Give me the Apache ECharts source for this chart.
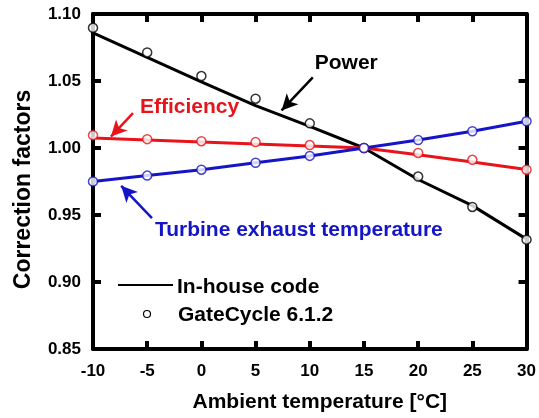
<!DOCTYPE html>
<html><head><meta charset="utf-8">
<script src="https://cdn.jsdelivr.net/npm/echarts@6/dist/echarts.min.js"></script>
<style>html,body{margin:0;padding:0;background:#fff}#c{width:539px;height:418px}</style>
</head><body><div id="c"></div>
<script>
const temps = [-10, -5, 0, 5, 10, 15, 20, 25, 30];
// In-house code (lines)
const powerLine = [1.086, 1.0676, 1.0493, 1.0316, 1.0162, 1.0, 0.9765, 0.957, 0.932];
const effLine = [1.0075, 1.006, 1.0045, 1.003, 1.0015, 1.0, 0.995, 0.9895, 0.984];
const texLine = [0.975, 0.9794, 0.9838, 0.989, 0.9941, 1.0, 1.0059, 1.0125, 1.0199];
// GateCycle 6.1.2 (markers)
const powerGC = [1.0897, 1.0713, 1.0537, 1.0368, 1.0184, 1.0, 0.9787, 0.956, 0.9316];
const effGC = [1.0096, 1.0066, 1.0051, 1.0044, 1.0022, 1.0, 0.9963, 0.9912, 0.9838];
const texGC = [0.975, 0.9794, 0.9838, 0.989, 0.9941, 1.0, 1.0059, 1.0125, 1.0199];
const xTicks = [-10, 30, 5];
const yTicks = [0.85, 1.10, 0.05];

const BLACK = '#000', RED = '#e8141c', BLUE = '#1515c8';
const FONT = 'Liberation Sans, Arial, sans-serif';
const pairs = a => temps.map((t, i) => [t, a[i]]);

function lineS(d, c) {
  return {type: 'line', data: pairs(d), showSymbol: false, lineStyle: {color: c, width: 3}, z: 3, animation: false};
}
function markS(d, c) {
  return {type: 'scatter', data: pairs(d), symbol: 'circle', symbolSize: 9,
    itemStyle: {color: '#fff', borderColor: c, borderWidth: 1.5}, z: 4, animation: false};
}
function arrowS(from, to, c) {
  return {type: 'line', data: [], animation: false,
    markLine: {silent: true, symbol: ['none', 'arrow'], symbolSize: [12, 16],
      label: {show: false}, lineStyle: {color: c, width: 2.5, type: 'solid'},
      data: [[{coord: from}, {coord: to}]]}};
}
const axCommon = (pos, labels) => ({
  type: 'value', position: pos,
  axisLine: {show: true, onZero: false, lineStyle: {color: '#000', width: 4}},
  axisTick: {show: true, inside: true, length: 8, lineStyle: {color: '#000', width: 4}},
  splitLine: {show: false},
  axisLabel: {show: labels, color: '#000', fontFamily: FONT, fontWeight: 'bold', fontSize: 17, margin: 14}
});

const chart = echarts.init(document.getElementById('c'), null, {renderer: 'canvas'});
const option = {
  backgroundColor: '#fff',
  animation: false,
  grid: {left: 93, right: 12, top: 14, bottom: 66},
  xAxis: [
    Object.assign(axCommon('bottom', true), {min: xTicks[0], max: xTicks[1], interval: xTicks[2],
      name: 'Ambient temperature [°C]', nameLocation: 'middle', nameGap: 43,
      nameTextStyle: {color: '#000', fontFamily: FONT, fontWeight: 'bold', fontSize: 21, padding: [0, 0, 0, 20]}}),
    Object.assign(axCommon('top', false), {min: xTicks[0], max: xTicks[1], interval: xTicks[2]})
  ],
  yAxis: [
    Object.assign(axCommon('left', true), {min: yTicks[0], max: yTicks[1], interval: yTicks[2],
      axisLabel: {show: true, color: '#000', fontFamily: FONT, fontWeight: 'bold', fontSize: 17, margin: 12,
        formatter: v => v.toFixed(2)},
      name: 'Correction factors', nameLocation: 'middle', nameGap: 58,
      nameTextStyle: {color: '#000', fontFamily: FONT, fontWeight: 'bold', fontSize: 23, padding: [0, 16, 0, 0]}}),
    Object.assign(axCommon('right', false), {min: yTicks[0], max: yTicks[1], interval: yTicks[2]})
  ],
  series: [
    lineS(powerLine, BLACK), lineS(effLine, RED), lineS(texLine, BLUE),
    markS(powerGC, BLACK), markS(effGC, RED), markS(texGC, BLUE),
    arrowS([10.28, 1.0527], [7.4, 1.028], BLACK),
    arrowS([-6.31, 1.026], [-8.35, 1.0085], RED),
    arrowS([-4.56, 0.9476], [-7.4, 0.9718], BLUE)
  ]
};
chart.setOption(option);

function txt(x, y, s, c, size) {
  const p = chart.convertToPixel({xAxisIndex: 0, yAxisIndex: 0}, [x, y]);
  return {type: 'text', x: p[0], y: p[1], z: 10,
    style: {text: s, fill: c, font: 'bold ' + size + 'px ' + FONT, textAlign: 'left', textVerticalAlign: 'middle'}};
}
chart.setOption({graphic: [
  txt(10.46, 1.063, 'Power', BLACK, 21),
  txt(-5.67, 1.0305, 'Efficiency', RED, 21),
  txt(-4.29, 0.9387, 'Turbine exhaust temperature', BLUE, 21),
  {type: 'line', shape: {x1: 118, y1: 285, x2: 173, y2: 285}, style: {stroke: '#000', lineWidth: 2}, z: 10},
  {type: 'text', x: 177, y: 287, z: 10, style: {text: 'In-house code', fill: '#000', font: 'bold 21px ' + FONT, textVerticalAlign: 'middle'}},
  {type: 'circle', shape: {cx: 147, cy: 314, r: 3.5}, style: {fill: '#fff', stroke: '#000', lineWidth: 1.2}, z: 10},
  {type: 'text', x: 178, y: 315, z: 10, style: {text: 'GateCycle 6.1.2', fill: '#000', font: 'bold 21px ' + FONT, textVerticalAlign: 'middle'}}
]});
</script></body></html>
